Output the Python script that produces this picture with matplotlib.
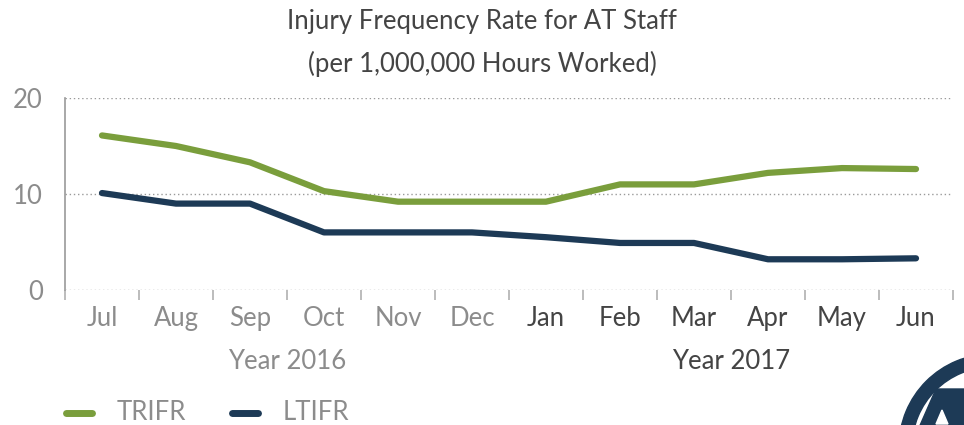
import matplotlib
matplotlib.use("Agg")
import matplotlib.pyplot as plt
from matplotlib.patches import Wedge, Polygon
from matplotlib.lines import Line2D

months = ["Jul", "Aug", "Sep", "Oct", "Nov", "Dec", "Jan", "Feb", "Mar", "Apr", "May", "Jun"]
trifr = [16.1, 15.0, 13.3, 10.3, 9.2, 9.2, 9.2, 11.0, 11.0, 12.2, 12.7, 12.6]
ltifr = [10.1, 9.0, 9.0, 6.0, 6.0, 6.0, 5.5, 4.9, 4.9, 3.2, 3.2, 3.3]
years = ["Year 2016", "Year 2017"]
yticks = [0, 10, 20]

GREEN = "#7a9e3c"
NAVY = "#1d3a56"
GRAY = "#8c8c8c"
DARK = "#444444"
FS = 18.5

plt.rcParams['font.family'] = ['Lato', 'DejaVu Sans']

W, H = 964, 425
fig = plt.figure(figsize=(W / 100, H / 100), dpi=100)
ax = fig.add_axes([65 / W, (H - 290) / H, (953 - 65) / W, (290 - 98) / H])

x = list(range(len(months)))
ax.plot(x, trifr, color=GREEN, lw=4.5, solid_capstyle="round", solid_joinstyle="round")
ax.plot(x, ltifr, color=NAVY, lw=4.5, solid_capstyle="round", solid_joinstyle="round")

ax.set_xlim(-0.5, len(months) - 0.5)
ax.set_ylim(0, 20)
ax.set_yticks(yticks)
ax.set_yticklabels([str(v) for v in yticks], fontsize=FS, color=GRAY)
ax.tick_params(axis="y", length=0, pad=16)
for v in yticks:
    ax.axhline(v, color="#9a9a9a", lw=1, ls=(0, (1, 2)), zorder=0)

ax.set_xticks([i - 0.5 for i in range(len(months) + 1)], minor=False)
ax.set_xticklabels([])
ax.tick_params(axis="x", length=7, color="#b0b0b0", width=1.2, direction="out")
for i, m in enumerate(months):
    ax.text(i, -3.0, m, ha="center", va="center", fontsize=FS,
            color=GRAY if i < 6 else DARK)
ax.text(2.5, -7.4, years[0], ha="center", va="center", fontsize=FS, color=GRAY)
ax.text(8.5, -7.4, years[1], ha="center", va="center", fontsize=FS, color=DARK)

for s in ["top", "right", "bottom"]:
    ax.spines[s].set_visible(False)
ax.spines["left"].set_color("#9a9a9a")
ax.spines["left"].set_linewidth(1.2)

fig.text(0.5, 1 - 22 / H, "Injury Frequency Rate for AT Staff", ha="center", va="center",
         fontsize=FS, color="#444444")
fig.text(0.5, 1 - 64 / H, "(per 1,000,000 Hours Worked)", ha="center", va="center",
         fontsize=FS, color="#444444")

# legend
ly = 1 - 413 / H
fig.add_artist(Line2D([66 / W, 92 / W], [ly, ly], color=GREEN, lw=5, solid_capstyle="round"))
fig.text(117 / W, ly, "TRIFR", ha="left", va="center", fontsize=FS, color=GRAY)
fig.add_artist(Line2D([232 / W, 258 / W], [ly, ly], color=NAVY, lw=5, solid_capstyle="round"))
fig.text(283 / W, ly, "LTIFR", ha="left", va="center", fontsize=FS, color=GRAY)

# logo (partial, bottom right)
lax = fig.add_axes([0, 0, 1, 1])
lax.set_xlim(0, W)
lax.set_ylim(H, 0)
lax.axis("off")
lax.add_patch(Wedge((992, 447), 93, 0, 360, width=13, color=NAVY))
lax.add_patch(Polygon([[918, 430], [936, 389], [975, 389], [985, 430]], closed=True, color=NAVY))
lax.add_patch(Polygon([[936, 424], [942, 410], [948, 424]], closed=True, color="white"))

fig.savefig("out.png", dpi=100)
